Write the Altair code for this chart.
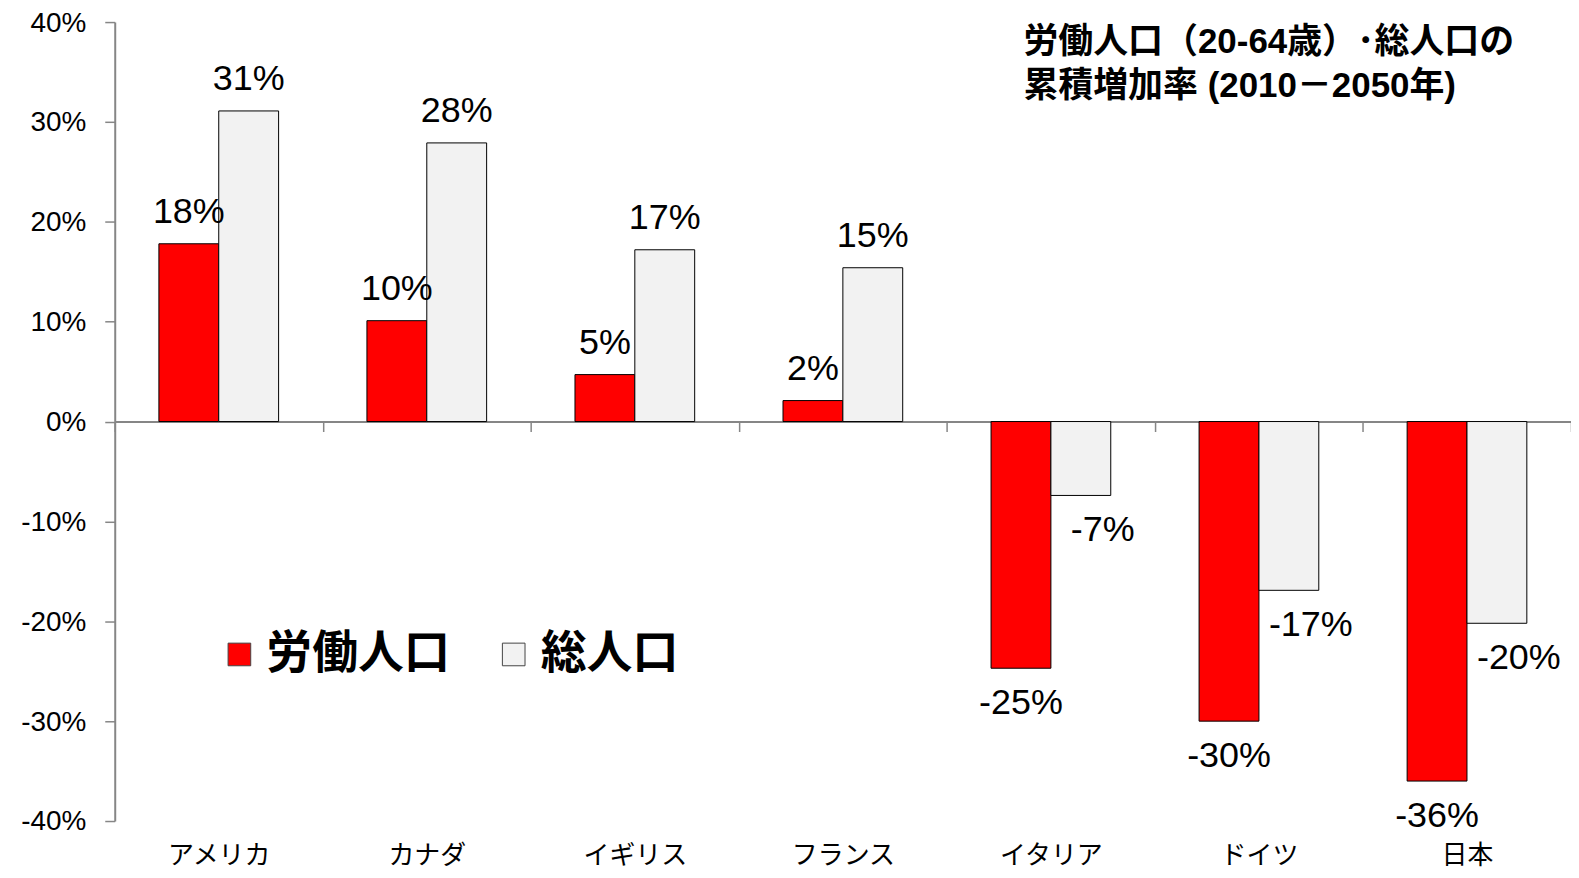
import altair as alt
import pandas as pd

countries = ["アメリカ", "カナダ", "イギリス", "フランス", "イタリア", "ドイツ", "日本"]
series_names = ["労働人口", "総人口"]
labor = [17.8, 10.1, 4.7, 2.1, -24.7, -30.0, -36.0]
total = [31.1, 27.9, 17.2, 15.4, -7.4, -16.9, -20.2]
colors = ["#FF0000", "#F2F2F2"]
title_lines = ["労働人口（20-64歳）･総人口の", "累積増加率 (2010－2050年)"]
y_ticks = [-40, -30, -20, -10, 0, 10, 20, 30, 40]

rows = []
for c, a, b in zip(countries, labor, total):
    rows.append({"country": c, "series": series_names[0], "value": a, "label": f"{round(a)}%"})
    rows.append({"country": c, "series": series_names[1], "value": b, "label": f"{round(b)}%"})
df = pd.DataFrame(rows)

W, H = 1460, 801
ymin, ymax = y_ticks[0], y_ticks[-1]
zero_off = -H * (0 - ymin) / (ymax - ymin)

NUM_FONT = "Liberation Sans"
JP_FONT = "Noto Sans CJK JP"
AX = "#868686"

x = alt.X(
    "country:N", sort=countries,
    scale=alt.Scale(paddingInner=0, paddingOuter=0),
    axis=alt.Axis(title=None, offset=zero_off, domainColor=AX, domainWidth=2,
                  tickColor=AX, tickWidth=1.5, tickSize=10, tickBand="extent",
                  labelAngle=0, labelFont=JP_FONT, labelFontSize=26, labelColor="#000",
                  labelPadding=412),
)
xo = alt.XOffset("series:N", sort=series_names,
                 scale=alt.Scale(paddingInner=0, paddingOuter=0.738))
y = alt.Y(
    "value:Q",
    scale=alt.Scale(domain=[ymin, ymax], nice=False),
    axis=alt.Axis(title=None, values=y_ticks, labelExpr="datum.value + '%'", grid=False,
                  domainColor=AX, domainWidth=2, tickColor=AX, tickWidth=1.5, tickSize=10,
                  labelFont=NUM_FONT, labelFontSize=28, labelOffset=1, labelPadding=19,
                  labelColor="#000"),
)
color = alt.Color(
    "series:N", sort=series_names,
    scale=alt.Scale(domain=series_names, range=colors),
    legend=alt.Legend(title=None, orient="none", direction="horizontal",
                      legendX=102, legendY=611, symbolType="square", symbolSize=515,
                      symbolStrokeColor="#444", symbolStrokeWidth=1, symbolOpacity=1,
                      labelFont=JP_FONT, labelFontSize=46, labelFontWeight="bold",
                      labelColor="#000", labelOffset=4, columnPadding=41, padding=0,
                      labelLimit=400),
)

base = alt.Chart(df)
bars = base.mark_bar(stroke="#000", strokeWidth=1).encode(x=x, xOffset=xo, y=y, color=color)

txt = dict(font=NUM_FONT, fontSize=36, baseline="middle", color="#000")
pos = base.transform_filter("datum.value >= 0").mark_text(dy=-32, **txt).encode(
    x=x, xOffset=xo, y=y, text="label:N")
neg_l = base.transform_filter(f"datum.value < 0 && datum.series == '{series_names[0]}'").mark_text(
    dy=35, **txt).encode(x=x, xOffset=xo, y=y, text="label:N")
neg_t = base.transform_filter(f"datum.value < 0 && datum.series == '{series_names[1]}'").mark_text(
    dy=35, dx=22, **txt).encode(x=x, xOffset=xo, y=y, text="label:N")

title = alt.Chart(pd.DataFrame({"k": [0]})).mark_text(
    text=title_lines, align="left", baseline="top", font=f"{NUM_FONT}, {JP_FONT}",
    fontSize=35, fontWeight="bold", lineHeight=44, color="#000",
).encode(x=alt.value(911), y=alt.value(3))

chart = alt.layer(bars, pos, neg_l, neg_t, title).properties(
    width=W, height=H,
    padding={"left": 107, "top": 13, "right": 0, "bottom": 48},
    autosize=alt.AutoSizeParams(type="none"),
    background="white",
).configure_view(stroke=None)

chart.save("out.html", embed_options={"renderer": "svg", "actions": False})
